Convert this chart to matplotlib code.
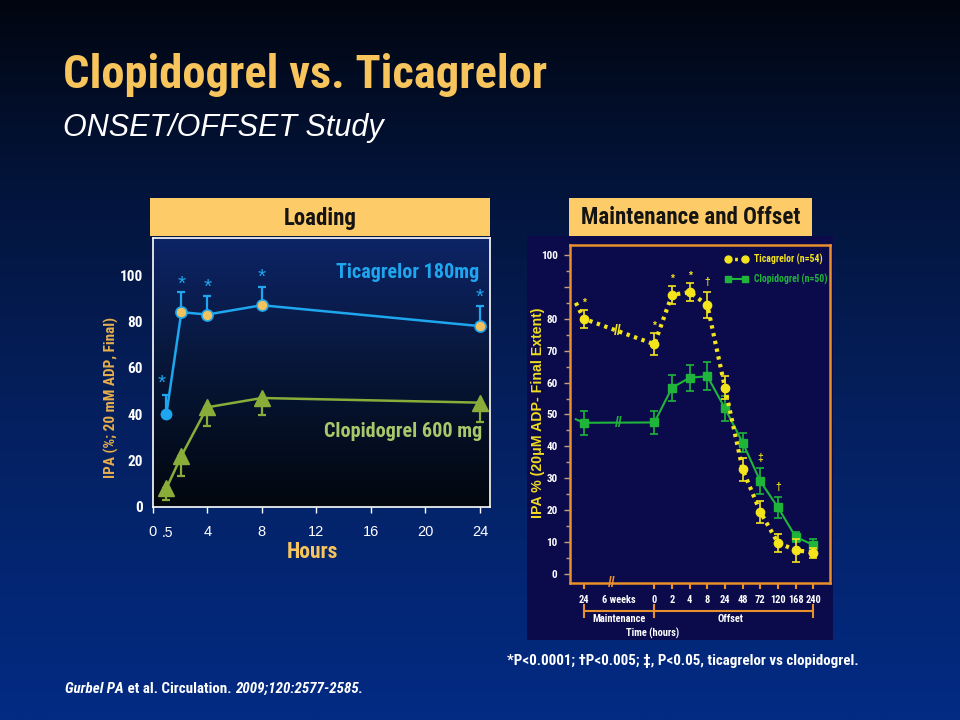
import numpy as np
import matplotlib
matplotlib.use("Agg")
import matplotlib.pyplot as plt
from matplotlib.colors import LinearSegmentedColormap
from matplotlib.patches import Rectangle
from matplotlib.lines import Line2D
import matplotlib.transforms as mtransforms
from matplotlib import font_manager

# ---------------- Data: Loading panel ----------------
load_pos = [1.0, 2.1, 4, 8, 24]          # plotted positions of the 0.5, 2, 4, 8, 24 h samples
tica_load = [40, 84, 83, 87, 78]
tica_load_err = [8.5, 8.5, 8, 8, 8.5]
clop_load = [8, 22, 43, 47, 45]
clop_load_err = [5, 8.5, 8, 7.5, 8.5]
load_xticks = [0, 4, 8, 12, 16, 20, 24]
load_yticks = [0, 20, 40, 60, 80, 100]

# ---------------- Data: Maintenance and Offset panel ----------------
mo_tick_labels = ["24", "6 weeks", "0", "2", "4", "8", "24", "48", "72", "120", "168", "240"]
mo_tick_pos = [0, 2, 4, 5, 6, 7, 8, 9, 10, 11, 12, 13]
mo_data_pos = [0, 4, 5, 6, 7, 8, 9, 10, 11, 12, 13]
tica_mo = [80, 72, 87.5, 88.3, 84.3, 58.4, 32.8, 19.5, 9.8, 7.5, 6.7]
tica_mo_err = [2.8, 3.4, 2.9, 2.8, 4.0, 3.7, 3.5, 3.5, 2.8, 3.6, 1.6]
clop_mo = [47.4, 47.5, 58.4, 61.5, 62, 51.9, 41.2, 29.1, 20.9, 11.7, 9.1]
clop_mo_err = [3.7, 3.5, 4.1, 4.0, 4.3, 3.8, 3.0, 4.1, 3.4, 1.5, 1.8]
lead_pos = -0.45
tica_lead = 85
clop_lead = 48.5
mo_yticks = list(range(0, 101, 10))
mo_ytick_labels = [str(v) if v != 90 else "" for v in mo_yticks]
sig_pos = [0, 4, 5, 6, 7, 10, 11]
sig_sym = ["*", "*", "*", "*", "\u2020", "\u2021", "\u2020"]

# ---------------- Style ----------------
W, H = 960, 720
installed = {f.name for f in font_manager.fontManager.ttflist}
narrow_pref = ["Liberation Sans Narrow", "Arial Narrow", "Roboto Condensed",
               "PT Sans Narrow", "Archivo Narrow"]
chosen = next((n for n in narrow_pref if n in installed), "Liberation Sans")
NARROW = [chosen, "Liberation Sans", "DejaVu Sans"]
SANS = ["Liberation Sans", "DejaVu Sans"]
GOLD = "#f7c55c"
HEADER = "#fdcc68"
CYAN = "#1ea6ee"
OLIVE = "#8aad3a"
OLIVE_TXT = "#a9c86a"
YEL = "#f3e41c"
GRN = "#1fb43a"
ORANGE = "#e8902c"
PANEL = "#0b0b4c"

plt.rcParams["font.family"] = SANS


def fx(px):
    return px / W


def fy(py):
    return 1 - py / H


fig = plt.figure(figsize=(9.6, 7.2), dpi=100)

# background gradient
bg = fig.add_axes([0, 0, 1, 1], zorder=-10)
bg_cmap = LinearSegmentedColormap.from_list(
    "bg", [(0, "#010510"), (0.25, "#03143a"), (0.55, "#051f5c"), (1, "#022b84")])
grad = np.linspace(0, 1, 256).reshape(-1, 1)
bg.imshow(grad, cmap=bg_cmap, aspect="auto", extent=[0, 1, 0, 1], origin="upper")
bg.set_axis_off()

# titles
fig.text(fx(63), fy(75), "Clopidogrel vs. Ticagrelor", family=NARROW, weight="bold",
         fontsize=33.5, color=GOLD, ha="left", va="center")
fig.text(fx(63), fy(128), "ONSET/OFFSET Study", family=SANS, style="italic",
         fontsize=22, color="white", ha="left", va="center")

# header boxes
for (x0, x1, label) in [(150, 490, "Loading"), (569, 812, "Maintenance and Offset")]:
    fig.patches.append(Rectangle((fx(x0), fy(236)), fx(x1 - x0), (236 - 198) / H,
                                 transform=fig.transFigure, facecolor=HEADER,
                                 edgecolor="none", zorder=-5))
    fig.text(fx((x0 + x1) / 2), fy(218), label, family=NARROW, weight="bold",
             fontsize=16.5, color="#141414", ha="center", va="center")

# right panel dark background
fig.patches.append(Rectangle((fx(527), fy(640)), fx(833 - 527), (640 - 236) / H,
                             transform=fig.transFigure, facecolor=PANEL,
                             edgecolor="none", zorder=-5))

# ---------------- Left panel: Loading ----------------
ax = fig.add_axes([fx(152.7), fy(507), fx(490 - 152.7), (507 - 238) / H])
xl = (0, 24.73)
yl = (0, 116)
ax.set_xlim(*xl)
ax.set_ylim(*yl)
pcmap = LinearSegmentedColormap.from_list("pl", ["#0d2466", "#071636", "#02070e"])
ax.imshow(grad, cmap=pcmap, aspect="auto", extent=[xl[0], xl[1], yl[0], yl[1]],
          origin="upper", zorder=0)
for s in ax.spines.values():
    s.set_color("white")
    s.set_linewidth(1.2)

# clopidogrel
ax.errorbar(load_pos, clop_load, yerr=[clop_load_err, [0] * len(clop_load)], fmt="none",
            ecolor=OLIVE, elinewidth=1.6, capsize=3, capthick=1.6, zorder=3)
ax.plot(load_pos, clop_load, color=OLIVE, lw=1.8, marker="^", ms=11.5,
        mfc=OLIVE, mec=OLIVE, zorder=4)
# ticagrelor
ax.errorbar(load_pos, tica_load, yerr=[[0] * len(tica_load), tica_load_err], fmt="none",
            ecolor=CYAN, elinewidth=1.6, capsize=3, capthick=1.6, zorder=3)
ax.plot(load_pos, tica_load, color=CYAN, lw=1.8, zorder=4)
ax.plot(load_pos[:1], tica_load[:1], ls="none", marker="o", ms=7.5, mfc=CYAN,
        mec=CYAN, zorder=5)
ax.plot(load_pos[1:], tica_load[1:], ls="none", marker="o", ms=8, mfc="#f2c25e",
        mec=CYAN, mew=1.2, zorder=5)
# significance stars
star_dx = [-3, 0, 0, 0, 0]
star_dy = [4, 2, 2.5, 2.5, 2.5]
for i, (xv, yv, ev) in enumerate(zip(load_pos, tica_load, tica_load_err)):
    ax.annotate("*", (xv, yv + ev), xytext=(star_dx[i], star_dy[i]),
                textcoords="offset points", ha="center", va="baseline",
                fontsize=15, color=CYAN, family=SANS, zorder=6, annotation_clip=False)

ax.text(0.968, 101, "Ticagrelor 180mg", transform=mtransforms.blended_transform_factory(
    ax.transAxes, ax.transData), family=NARROW, weight="bold", fontsize=14.5,
    color=CYAN, ha="right", va="center")
ax.text(0.978, 32.5, "Clopidogrel 600 mg", transform=mtransforms.blended_transform_factory(
    ax.transAxes, ax.transData), family=NARROW, weight="bold", fontsize=14.5,
    color=OLIVE_TXT, ha="right", va="center")

ax.set_yticks(load_yticks)
ax.set_yticklabels([str(v) for v in load_yticks], family=NARROW, weight="bold",
                   fontsize=11, color="white")
ax.tick_params(axis="y", length=0, pad=7)
ax.set_xticks(load_xticks)
ax.set_xticklabels([str(v) for v in load_xticks], family=SANS, fontsize=10.5,
                   color="white")
ax.tick_params(axis="x", direction="out", length=4, width=1, color="white", pad=9)
ax.text(1.1, -0.07, ".5", transform=mtransforms.blended_transform_factory(
    ax.transData, ax.transAxes), family=SANS, fontsize=10, color="white",
    ha="center", va="top")
fig.text(fx(312), fy(552), "Hours", family=NARROW, weight="bold", fontsize=15.5,
         color=GOLD, ha="center", va="center")
fig.text(fx(111.5), fy(397), "IPA (%; 20 mM ADP, Final)", family=NARROW, weight="bold",
         fontsize=11, color="#e7ae4c", rotation=90, ha="center", va="center")

# ---------------- Right panel: Maintenance and Offset ----------------
ax2 = fig.add_axes([fx(570), fy(583), fx(830 - 570), (583 - 245) / H])
ax2.set_facecolor(PANEL)
ax2.set_xlim(-0.78, 13.95)
ax2.set_ylim(-2.8, 103.1)
for s in ax2.spines.values():
    s.set_color(ORANGE)
    s.set_linewidth(1.8)

tx = [lead_pos] + mo_data_pos
ax2.plot(tx, [clop_lead] + clop_mo, color=GRN, lw=1.5, zorder=3)
ax2.errorbar(mo_data_pos, clop_mo, yerr=clop_mo_err, fmt="s", ms=5.5, color=GRN,
             mfc=GRN, mec=GRN, ecolor=GRN, elinewidth=1.2, capsize=3, capthick=1.2,
             zorder=4)
ax2.plot(tx, [tica_lead] + tica_mo, color=YEL, lw=3,
         ls=(0, (0.8, 1.1)), zorder=5)
ax2.errorbar(mo_data_pos, tica_mo, yerr=tica_mo_err, fmt="o", ms=6, color=YEL,
             mfc=YEL, mec=YEL, ecolor=YEL, elinewidth=1.2, capsize=3, capthick=1.2,
             zorder=6)

# "//" break marks
ax2.text((mo_data_pos[0] + mo_data_pos[1]) / 2 - 0.1, (tica_mo[0] + tica_mo[1]) / 2, "//",
         color=YEL, fontsize=10, weight="bold", ha="center", va="center", zorder=7)
ax2.text((mo_data_pos[0] + mo_data_pos[1]) / 2, (clop_mo[0] + clop_mo[1]) / 2, "//",
         color=GRN, fontsize=10, weight="bold", ha="center", va="center", zorder=7)
ax2.text(1.6, 0.0, "//", transform=mtransforms.blended_transform_factory(
    ax2.transData, ax2.transAxes), color=ORANGE, fontsize=10, weight="bold",
    ha="center", va="center", zorder=7, clip_on=False)

# significance symbols
sig_dy = {"*": 1.5, "\u2020": 3.5, "\u2021": 3.5}
for p, sym in zip(sig_pos, sig_sym):
    i = mo_data_pos.index(p)
    top = max(tica_mo[i] + tica_mo_err[i], clop_mo[i] + clop_mo_err[i])
    ax2.annotate(sym, (p, top), xytext=(0, sig_dy[sym]), textcoords="offset points",
                 ha="center", va="bottom", fontsize=7.5, weight="bold", color=YEL,
                 family=SANS, zorder=8)

# ticks
ax2.set_yticks(mo_yticks)
ax2.set_yticks(list(range(5, 100, 10)), minor=True)
ax2.set_yticklabels(mo_ytick_labels, family=NARROW, weight="bold", fontsize=8,
                    color="white")
ax2.tick_params(axis="y", which="major", direction="out", length=4, width=1,
                color="#c9a07a", pad=5)
ax2.tick_params(axis="y", which="minor", direction="out", length=3, width=1,
                color="#c9a07a")
ax2.set_xticks(mo_tick_pos)
ax2.set_xticklabels(mo_tick_labels, family=NARROW, weight="bold", fontsize=7.5,
                    color="white")
ax2.tick_params(axis="x", direction="out", length=4.5, width=1.5, color=ORANGE, pad=4)
for t, lab in zip(ax2.xaxis.get_major_ticks(), mo_tick_labels):
    if lab == "6 weeks":
        t.tick1line.set_visible(False)

# brackets below the axis
btr = mtransforms.blended_transform_factory(ax2.transData, ax2.transAxes)
by = -0.082
for (a, b) in [(0, 4), (4, 13)]:
    ax2.add_line(Line2D([a, b], [by, by], transform=btr, color=ORANGE, lw=1.5,
                        clip_on=False))
for p in (0, 4, 13):
    ax2.add_line(Line2D([p, p], [by - 0.018, by + 0.018], transform=btr, color=ORANGE,
                        lw=1.5, clip_on=False))
ax2.text(2, -0.107, "Maintenance", transform=btr, family=NARROW, weight="bold",
         fontsize=7.5, color="white", ha="center", va="center")
ax2.text(8.3, -0.107, "Offset", transform=btr, family=NARROW, weight="bold",
         fontsize=7.5, color="white", ha="center", va="center")
ax2.text(3.87, -0.148, "Time (hours)", transform=btr, family=NARROW, weight="bold",
         fontsize=7.5, color="white", ha="center", va="center")

# legend
handles = [Line2D([], [], color=YEL, lw=2.5, ls=(0, (0.8, 1.1)), marker="o", ms=5,
                  mfc=YEL, mec=YEL),
           Line2D([], [], color=GRN, lw=1.5, marker="s", ms=5, mfc=GRN, mec=GRN)]
leg = ax2.legend(handles, ["Ticagrelor (n=54)", "Clopidogrel (n=50)"], loc="upper left",
                 bbox_to_anchor=(0.596, 0.975), frameon=False, borderpad=0,
                 borderaxespad=0, handlelength=2.4, handletextpad=0.6,
                 labelspacing=0.9, numpoints=2,
                 prop={"family": NARROW, "weight": "bold", "size": 7},
                 labelcolor=[YEL, GRN])
leg.set_zorder(9)

fig.text(fx(538), fy(413), "IPA % (20\u03bcM ADP- Final Extent)", family=SANS,
         weight="bold", fontsize=10.2, color="#f0dc1e", rotation=90, ha="center",
         va="center")

# ---------------- Footnotes ----------------
fig.text(fx(507), fy(661), "*P<0.0001; \u2020P<0.005; \u2021, P<0.05, ticagrelor vs clopidogrel.",
         family=NARROW, weight="bold", fontsize=10.8, color="white", ha="left",
         va="center")

fig.canvas.draw()
renderer = fig.canvas.get_renderer()
parts = [("Gurbel PA", "italic"), (" et al. Circulation. ", "normal"),
         ("2009;120:2577-2585.", "italic")]
xcur = 65
for txt, st in parts:
    t = fig.text(fx(xcur), fy(689), txt, family=NARROW, weight="bold", style=st,
                 fontsize=10.8, color="white", ha="left", va="center")
    bb = t.get_window_extent(renderer)
    xcur += bb.width

fig.savefig("out.png", dpi=100)
